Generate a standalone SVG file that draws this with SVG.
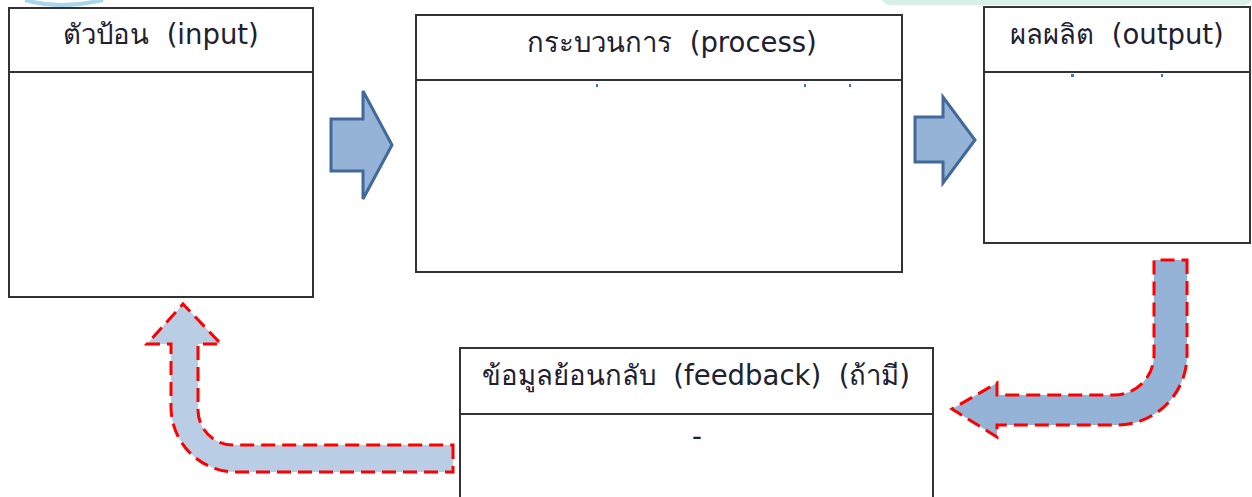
<svg xmlns="http://www.w3.org/2000/svg" width="1252" height="497" viewBox="0 0 1252 497">
  <style>
    .box { fill: #ffffff; stroke: #333333; stroke-width: 2; }
    .sep { stroke: #333333; stroke-width: 2; }
    .title { font-family: "DejaVu Sans", "Noto Sans", "Liberation Sans", sans-serif; font-size: 27.5px; fill: #202030; text-anchor: middle; white-space: pre; }
    .solid-arrow { fill: #95b3d7; stroke: #41699a; stroke-width: 3; stroke-linejoin: miter; }
    .loop-arrow { stroke: #ff0000; stroke-width: 3; stroke-dasharray: 14 7; stroke-linejoin: miter; }
    .frag { fill: #4a6fc0; }
  </style>

  <!-- background remnants along the top edge -->
  <path d="M25,0 Q60,10 103,0" fill="none" stroke="#a9d6ea" stroke-width="4"/>
  <rect x="882" y="-10" width="370" height="15" rx="8" fill="#d9f0e8"/>

  <!-- connectors -->
  <g id="connectors">
    <path id="arrow-input-process" class="solid-arrow" d="M331,119 H363 V91 L392,145 L363,199 V171 H331 Z"/>
    <path id="arrow-process-output" class="solid-arrow" d="M915,117 H943 V97 L975,140 L943,183 V162 H915 Z"/>
    <path id="arrow-output-feedback" class="loop-arrow" fill="#95b3d7"
          d="M1187,260 V355 A70,70 0 0 1 1117,425 H997 V437 L952,409 L997,383 V395 H1114 A40,40 0 0 0 1154,355 V260 Z"/>
    <path id="arrow-feedback-input" class="loop-arrow" fill="#b9cde5"
          d="M453,445 V472 H236 A65,65 0 0 1 171,407 V344 H147 L183,304 L221,344 H198 V410 A35,35 0 0 0 233,445 Z"/>
  </g>

  <!-- input -->
  <g id="node-input">
    <rect class="box" x="9" y="8" width="304" height="289"/>
    <line class="sep" x1="9" y1="72" x2="313" y2="72"/>
    <text class="title" x="161" y="44" xml:space="preserve">ตัวป้อน  (input)</text>
  </g>

  <!-- process -->
  <g id="node-process">
    <rect class="box" x="416" y="15" width="486" height="257"/>
    <line class="sep" x1="416" y1="80" x2="902" y2="80"/>
    <text class="title" x="672" y="52" xml:space="preserve">กระบวนการ  (process)</text>
    <rect class="frag" x="596" y="84" width="2" height="3"/>
    <rect class="frag" x="804" y="84" width="2" height="3"/>
    <rect class="frag" x="849" y="84" width="2" height="3"/>
  </g>

  <!-- output -->
  <g id="node-output">
    <rect class="box" x="984" y="7" width="266" height="236"/>
    <line class="sep" x1="984" y1="72" x2="1250" y2="72"/>
    <text class="title" x="1117" y="44" xml:space="preserve">ผลผลิต  (output)</text>
    <rect class="frag" x="1071" y="74" width="3" height="3"/>
    <rect class="frag" x="1161" y="74" width="2" height="3"/>
  </g>

  <!-- feedback -->
  <g id="node-feedback">
    <rect class="box" x="460" y="348" width="473" height="160"/>
    <line class="sep" x1="460" y1="414" x2="933" y2="414"/>
    <text class="title" x="696" y="385" xml:space="preserve">ข้อมูลย้อนกลับ  (feedback)  (ถ้ามี)</text>
    <text class="title" x="697" y="446">-</text>
  </g>
</svg>
